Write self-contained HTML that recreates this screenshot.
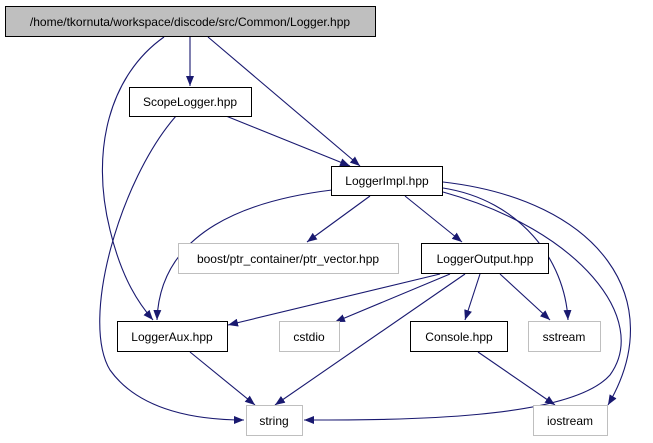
<!DOCTYPE html>
<html><head><meta charset="utf-8"><style>body{margin:0;background:#fff}svg{display:block}</style></head><body>
<svg width="653" height="443" viewBox="0 0 653 443" xmlns="http://www.w3.org/2000/svg" font-family="Liberation Sans, sans-serif" font-size="12">
<defs><marker id="a" viewBox="0 0 10 8" refX="10" refY="4" markerWidth="10" markerHeight="8" markerUnits="userSpaceOnUse" orient="auto"><path d="M0,0L10,4L0,8z" fill="#191970"/></marker></defs>
<g fill="none" stroke="#191970" stroke-width="1.1" marker-end="url(#a)">
<path d="M164,37C110,75 90,150 110,230C122,280 140,305 153,320"/>
<path d="M190,37L190,86"/>
<path d="M208,37L360,166"/>
<path d="M226,116L350,166"/>
<path d="M176,116C120,180 80,320 110,370C140,412 200,420 244,420"/>
<path d="M332,190C250,200 160,230 157,320"/>
<path d="M370,196L307,242"/>
<path d="M405,196L462,242"/>
<path d="M443,188C520,200 565,260 568,320"/>
<path d="M443,192C580,230 650,320 610,375C570,420 400,420 304,420"/>
<path d="M443,182C600,200 670,300 608,405"/>
<path d="M440,274L228,325"/>
<path d="M450,274L335,322"/>
<path d="M465,274L275,405"/>
<path d="M480,274L465,320"/>
<path d="M500,274L550,320"/>
<path d="M190,352L255,405"/>
<path d="M478,352L555,405"/>
</g>
<g stroke-width="1">
<rect x="5.5" y="6.5" width="370" height="30" fill="#bfbfbf" stroke="#000"/>
<rect x="129.5" y="87.5" width="122" height="29" fill="#fff" stroke="#000"/>
<rect x="331.5" y="166.5" width="111" height="29" fill="#fff" stroke="#000"/>
<rect x="178.5" y="243.5" width="220" height="30" fill="#fff" stroke="#bfbfbf"/>
<rect x="421.5" y="243.5" width="127" height="30" fill="#fff" stroke="#000"/>
<rect x="117.5" y="321.5" width="110" height="30" fill="#fff" stroke="#000"/>
<rect x="279.5" y="321.5" width="60" height="30" fill="#fff" stroke="#bfbfbf"/>
<rect x="410.5" y="321.5" width="97" height="30" fill="#fff" stroke="#000"/>
<rect x="528.5" y="321.5" width="72" height="30" fill="#fff" stroke="#bfbfbf"/>
<rect x="246.5" y="405.5" width="56" height="30" fill="#fff" stroke="#bfbfbf"/>
<rect x="533.5" y="405.5" width="74" height="30" fill="#fff" stroke="#bfbfbf"/>
</g>
<g text-anchor="middle" fill="#000">
<text x="190" y="26">/home/tkornuta/workspace/discode/src/Common/Logger.hpp</text>
<text x="190" y="106">ScopeLogger.hpp</text>
<text x="387" y="185">LoggerImpl.hpp</text>
<text x="288" y="263">boost/ptr_container/ptr_vector.hpp</text>
<text x="485" y="263">LoggerOutput.hpp</text>
<text x="172" y="341">LoggerAux.hpp</text>
<text x="309" y="341">cstdio</text>
<text x="459" y="341">Console.hpp</text>
<text x="564" y="341">sstream</text>
<text x="274" y="425">string</text>
<text x="570" y="425">iostream</text>
</g>
</svg>
</body></html>
